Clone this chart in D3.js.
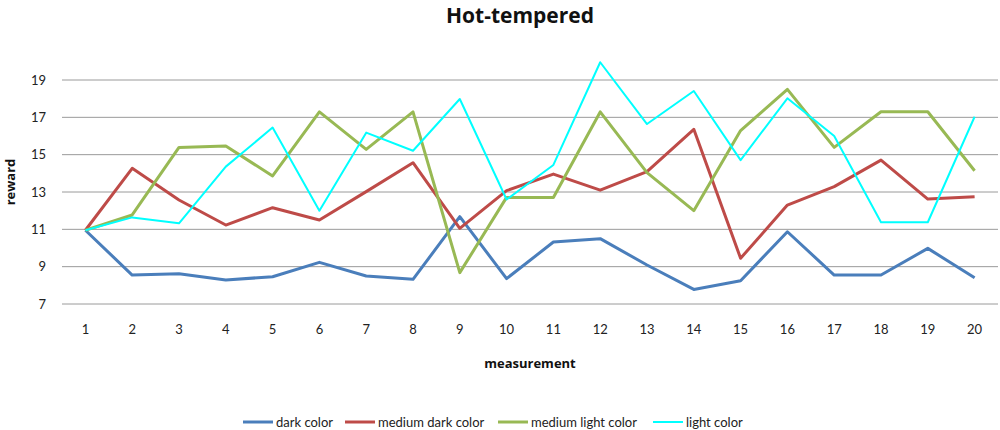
<!DOCTYPE html>
<html><head><meta charset="utf-8">
<script src="https://cdn.jsdelivr.net/npm/d3@7"></script>
<style>body{margin:0;background:#fff;}svg{display:block;font-family:Lato,"Open Sans",sans-serif;}</style>
</head><body><svg id="c" width="1000" height="430"></svg>
<script>
const categories = d3.range(1, 21).map(String);
const seriesNames = ["dark color", "medium dark color", "medium light color", "light color"];
const darkColor = [10.95, 8.55, 8.62, 8.29, 8.46, 9.23, 8.5, 8.32, 11.68, 8.36, 10.32, 10.5, 9.09, 7.78, 8.25, 10.87, 8.55, 8.55, 9.98, 8.41];
const mediumDarkColor = [10.95, 14.27, 12.57, 11.23, 12.16, 11.5, 13.02, 14.57, 11.05, 13.07, 13.96, 13.1, 14.09, 16.36, 9.45, 12.3, 13.29, 14.71, 12.62, 12.75];
const mediumLightColor = [10.95, 11.77, 15.39, 15.46, 13.86, 17.29, 15.28, 17.29, 8.68, 12.71, 12.71, 17.29, 14.04, 12.0, 16.29, 18.5, 15.39, 17.3, 17.3, 14.14];
const lightColor = [10.95, 11.64, 11.32, 14.36, 16.45, 12.0, 16.18, 15.21, 17.98, 12.6, 14.45, 19.95, 16.64, 18.41, 14.71, 18.02, 16.0, 11.38, 11.38, 17.03];
const yTicks = [7, 9, 11, 13, 15, 17, 19];

const seriesData = [darkColor, mediumDarkColor, mediumLightColor, lightColor];
const colors = ["#4a7ebb", "#be4b48", "#98b954", "#00ffff"];
const widths = [3, 3, 3, 2];

const svg = d3.select("#c");
const x = d3.scaleBand().domain(categories).range([62, 998]);
const y = d3.scaleLinear().domain([7, 19]).range([304, 80]);

// gridlines
svg.append("g").selectAll("line").data(yTicks).join("line")
  .attr("x1", 62).attr("x2", 998)
  .attr("y1", d => y(d)).attr("y2", d => y(d))
  .attr("stroke", "#9a9a9a").attr("stroke-width", 1);

// y axis labels
const yAxis = d3.axisLeft(y).tickValues(yTicks).tickSize(0).tickPadding(0);
const gy = svg.append("g").attr("transform", "translate(46,0)").call(yAxis);
gy.select(".domain").remove();
gy.selectAll("text").attr("font-size", 13).attr("fill", "#222").attr("font-family", "Lato,'Open Sans',sans-serif");

// x axis labels
const xAxis = d3.axisBottom(x).tickSize(0).tickPadding(0);
const gx = svg.append("g").attr("transform", "translate(0,325)").call(xAxis);
gx.select(".domain").remove();
gx.selectAll("text").attr("font-size", 13).attr("fill", "#222").attr("font-family", "Lato,'Open Sans',sans-serif");

// lines
const line = d3.line().x((d, i) => x(categories[i]) + x.bandwidth() / 2).y(d => y(d));
svg.append("g").selectAll("path").data(seriesData).join("path")
  .attr("d", d => line(d))
  .attr("fill", "none")
  .attr("stroke", (d, i) => colors[i])
  .attr("stroke-width", (d, i) => widths[i])
  .attr("stroke-linejoin", "round");

// titles
svg.append("text").attr("x", 520).attr("y", 23).attr("text-anchor", "middle")
  .attr("font-family", "'Open Sans',sans-serif")
  .attr("font-size", 21).attr("font-weight", "bold").attr("fill", "#111").text("Hot-tempered");
svg.append("text").attr("transform", "translate(15,182) rotate(-90)").attr("text-anchor", "middle")
  .attr("font-family", "'Open Sans',sans-serif")
  .attr("font-size", 13).attr("font-weight", "bold").attr("fill", "#111").text("reward");
svg.append("text").attr("x", 530).attr("y", 368).attr("text-anchor", "middle")
  .attr("font-family", "'Open Sans',sans-serif")
  .attr("font-size", 13).attr("font-weight", "bold").attr("fill", "#111").text("measurement");

// legend
const legendX = [243, 345, 498, 653];
const lg = svg.append("g").selectAll("g").data(seriesNames).join("g")
  .attr("transform", (d, i) => `translate(${legendX[i]},422)`);
lg.append("line").attr("x1", 0).attr("x2", 30).attr("y1", 0).attr("y2", 0)
  .attr("stroke", (d, i) => colors[i]).attr("stroke-width", (d, i) => widths[i]);
lg.append("text").attr("x", 33).attr("y", 5).attr("font-size", 13).attr("fill", "#222").text(d => d);
</script></body></html>
